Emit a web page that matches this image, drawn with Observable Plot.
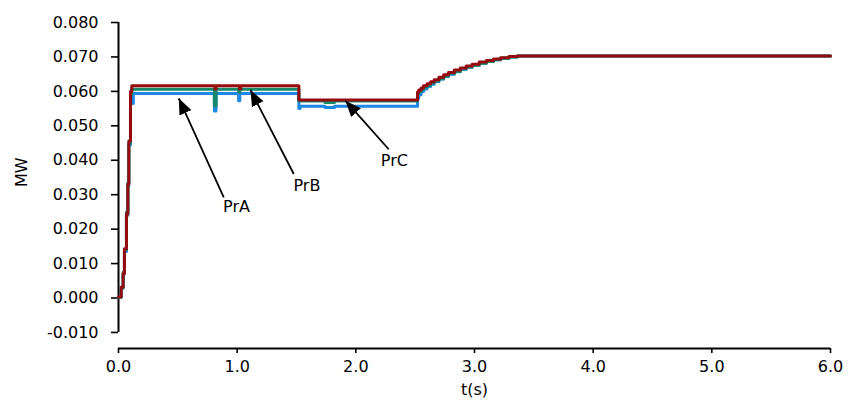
<!DOCTYPE html>
<html><head><meta charset="utf-8">
<script src="https://cdn.jsdelivr.net/npm/d3@7"></script>
<script src="https://cdn.jsdelivr.net/npm/@observablehq/plot@0.6"></script>
<style>body{margin:0;background:#fff;}</style>
</head><body><div id="chart"></div>
<script>
// Series names and colours
const seriesNames = ["PrA", "PrB", "PrC"];
const seriesColors = ["#1e88e5", "#15876b", "#960b0f"];

// Times of the settling section
const riseT = [2.52, 2.53, 2.55, 2.57, 2.60, 2.63, 2.66, 2.70, 2.74, 2.78, 2.83, 2.88, 2.93, 2.98, 3.04, 3.10, 3.16, 3.22, 3.29, 3.36, 6.0];

// PrA (blue)
const tA = [0, 0.022, 0.039, 0.05, 0.067, 0.079, 0.087, 0.101, 0.125, 0.808, 0.822, 1.012, 1.022, 1.52, 1.53, 1.74, 1.82, ...riseT];
const vA = [0.0002, 0.0028, 0.0070, 0.0135, 0.0240, 0.0325, 0.0445, 0.0565, 0.0594, 0.0543, 0.0594, 0.0573, 0.0594, 0.0550, 0.0557, 0.0553, 0.0557,
            0.0580, 0.0590, 0.0600, 0.0607, 0.0614, 0.0621, 0.0628, 0.0636, 0.0643, 0.0650, 0.0657, 0.0664, 0.0670, 0.0676, 0.0682, 0.0687, 0.0692, 0.0696, 0.0700, 0.0703, 0.0703];

// PrB (green)
const tB = [0, 0.022, 0.039, 0.05, 0.067, 0.079, 0.087, 0.101, 0.112, 0.808, 0.822, 1.012, 1.022, 1.52, 1.74, 1.82, ...riseT];
const vB = [0.0003, 0.0031, 0.0075, 0.0140, 0.0250, 0.0335, 0.0450, 0.0590, 0.0606, 0.0558, 0.0606, 0.0598, 0.0606, 0.0572, 0.0568, 0.0572,
            0.0593, 0.0600, 0.0606, 0.0612, 0.0618, 0.0624, 0.0630, 0.0637, 0.0644, 0.0651, 0.0658, 0.0665, 0.0671, 0.0676, 0.0682, 0.0687, 0.0692, 0.0696, 0.0700, 0.0703, 0.0703];

// PrC (dark red)
const tC = [0, 0.022, 0.039, 0.05, 0.067, 0.079, 0.087, 0.101, 0.112, 0.812, 0.822, 1.02, 1.03, 1.52, ...riseT];
const vC = [0.0003, 0.0031, 0.0071, 0.0143, 0.0244, 0.0331, 0.0456, 0.0600, 0.0616, 0.0607, 0.0616, 0.0607, 0.0616, 0.0575,
            0.0598, 0.0604, 0.0610, 0.0616, 0.0622, 0.0628, 0.0634, 0.0641, 0.0648, 0.0655, 0.0662, 0.0668, 0.0674, 0.0679, 0.0685, 0.0690, 0.0694, 0.0698, 0.0701, 0.0703, 0.0703];

// Axis ticks
const xTicks = [0, 1, 2, 3, 4, 5, 6];
const yTicks = [-0.010, 0.000, 0.010, 0.020, 0.030, 0.040, 0.050, 0.060, 0.070, 0.080];
const xDomain = [0, 6];
const yDomain = [-0.01466, 0.080];

// Annotations
const annLabels = ["PrA", "PrB", "PrC"];
const annTailT = [0.887, 1.477, 2.277];
const annTailV = [0.0292, 0.0360, 0.0432];
const annTipT = [0.508, 1.112, 1.912];
const annTipV = [0.0580, 0.0604, 0.0573];
const annTextT = [0.994, 1.588, 2.325];
const annTextV = [0.0265, 0.0326, 0.0398];

const rows = [];
[[tA, vA], [tB, vB], [tC, vC]].forEach(([ts, vs], i) => {
  ts.forEach((t, j) => rows.push({t, v: vs[j], series: seriesNames[i]}));
});
const ann = annLabels.map((label, i) => ({label, t1: annTailT[i], v1: annTailV[i], t2: annTipT[i], v2: annTipV[i], tt: annTextT[i], tv: annTextV[i]}));

const font = "DejaVu Sans, Verdana, sans-serif";
const chart = Plot.plot({
  width: 848,
  height: 407,
  marginLeft: 118,
  marginRight: 18,
  marginTop: 22,
  marginBottom: 59,
  style: {fontFamily: font, fontSize: "16px", color: "black", background: "white"},
  x: {domain: xDomain},
  y: {domain: yDomain},
  color: {domain: seriesNames, range: seriesColors},
  marks: [
    Plot.axisX({ticks: xTicks, tickFormat: d => d.toFixed(1), tickSize: 5, tickPadding: 7, label: null, fontSize: 16, strokeWidth: 1.6}),
    Plot.axisY({ticks: yTicks, tickFormat: d => d.toFixed(3), tickSize: 7, tickPadding: 13, label: null, fontSize: 16, strokeWidth: 1.6}),
    Plot.ruleX([xDomain[0]], {y1: yTicks[0], y2: yTicks[yTicks.length - 1], stroke: "black", strokeWidth: 2}),
    Plot.ruleY([yDomain[0]], {x1: xDomain[0], x2: xDomain[1], stroke: "black", strokeWidth: 2}),
    Plot.line(rows, {x: "t", y: "v", z: "series", stroke: "series", strokeWidth: 3, curve: "step-after"}),
    Plot.link(ann, {x1: "t1", y1: "v1", x2: "t2", y2: "v2", stroke: "black", strokeWidth: 1.8}),
    Plot.text(ann, {x: "tt", y: "tv", text: "label", fontSize: 16, fill: "black"}),
    Plot.text(["MW"], {x: xDomain[0], y: 0.0365, text: d => d, rotate: -90, dx: -97, fontSize: 16, fill: "black"}),
    Plot.text(["t(s)"], {x: (xDomain[0] + xDomain[1]) / 2, frameAnchor: "bottom", text: d => d, dy: 46, fontSize: 16, fill: "black"})
  ]
});

// filled arrowheads on the annotation links
const ns = "http://www.w3.org/2000/svg";
const defs = document.createElementNS(ns, "defs");
const marker = document.createElementNS(ns, "marker");
marker.setAttribute("id", "ahead");
marker.setAttribute("markerUnits", "userSpaceOnUse");
marker.setAttribute("markerWidth", "17");
marker.setAttribute("markerHeight", "13");
marker.setAttribute("refX", "16");
marker.setAttribute("refY", "6.5");
marker.setAttribute("orient", "auto");
const mp = document.createElementNS(ns, "path");
mp.setAttribute("d", "M0,0L16,6.5L0,13Z");
mp.setAttribute("fill", "black");
marker.appendChild(mp);
defs.appendChild(marker);
chart.insertBefore(defs, chart.firstChild);
chart.querySelectorAll('g[aria-label="link"] path, g[aria-label="link"] line').forEach(p => p.setAttribute("marker-end", "url(#ahead)"));

document.getElementById("chart").appendChild(chart);
</script>
</body></html>
